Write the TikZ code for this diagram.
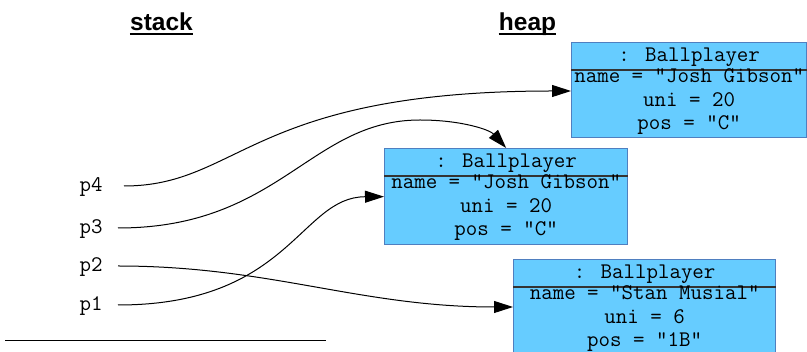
\documentclass[tikz,border=0pt]{standalone}
\usepackage{fontspec}
\setmainfont{Liberation Sans}
\usetikzlibrary{arrows.meta,calc}
\definecolor{boxfill}{HTML}{66CCFF}
\definecolor{boxline}{HTML}{4F7FC0}
\tikzset{
  mono/.style={font=\ttfamily\fontsize{22.3}{26}\selectfont, inner sep=0pt, anchor=base},
  head/.style={font=\bfseries\fontsize{24.5}{28}\selectfont, inner sep=0pt, anchor=base},
  objbox/.style={draw=boxline, fill=boxfill, line width=1.3pt, anchor=north west, inner sep=0pt},
  divider/.style={draw=black!80, line width=1.3pt},
  ref/.style={draw=black, line width=1pt, -{Triangle[length=19pt,width=12pt]}},
}
\begin{document}
\begin{tikzpicture}[x=1pt,y=-1pt]
\useasboundingbox (0,0) rectangle (807,352);
\clip (0,0) rectangle (807,352);
% headers
\node[head] (hstack) at (161.5,31) {stack};
\node[head] (hheap) at (527.5,31) {heap};
\draw[line width=1.2pt] ($(hstack.base west)+(0,3)$) -- ($(hstack.base east)+(0,3)$);
\draw[line width=1.2pt] ($(hheap.base west)+(0,3)$) -- ($(hheap.base east)+(0,3)$);
% stack variables
\node[mono] (p4) at (91,192) {p4};
\node[mono] (p3) at (91,234) {p3};
\node[mono] (p2) at (91,272) {p2};
\node[mono] (p1) at (91,311) {p1};
\coordinate (s4) at (124,186);
\coordinate (s3) at (118,228);
\coordinate (s2) at (118,266);
\coordinate (s1) at (118,305);
\coordinate (la) at (5,341);
\coordinate (lb) at (326,341);
\draw[line width=1pt] (la) -- (lb);
% boxes
\foreach \n/\x/\y/\w/\h/\name/\uni/\pos in {
  b1/571/42/235/95/"Josh Gibson"/20/"C",
  b2/384/148/243/96/"Josh Gibson"/20/"C",
  b3/513/259/262/110/"Stan Musial"/6/"1B"}{
  \node[objbox, minimum width=\w pt, minimum height=\h pt] (\n) at (\x,\y) {};
  \node[mono] (\n h) at ($(\n.north)+(0,20)$) {: Ballplayer};
  \draw[divider] ($(\n.north west)+(0,28)$) -- ($(\n.north east)+(0,28)$);
  \node[mono] (\n a) at ($(\n.north)+(0,41)$) {name = \name};
  \node[mono] (\n b) at ($(\n.north)+(0,64.5)$) {uni = \uni};
  \node[mono] (\n c) at ($(\n.north)+(0,88)$) {pos = \pos};
}
% references
\coordinate (t4) at ($(b1.north west)+(0,49)$);
\coordinate (t2) at ($(b3.north west)+(0,48)$);
\draw[ref] (s4) .. controls (240,186) and (250,91) .. (t4);
\draw[ref] (s3) .. controls (280,228) and (310,120) .. (420,120)
   .. controls (462,120) and (490,130) .. (b2.north);
\draw[ref] (s1) .. controls (290,305) and (300,197) .. (b2.west);
\draw[ref] (s2) .. controls (270,266) and (360,307) .. (t2);
\end{tikzpicture}
\end{document}
